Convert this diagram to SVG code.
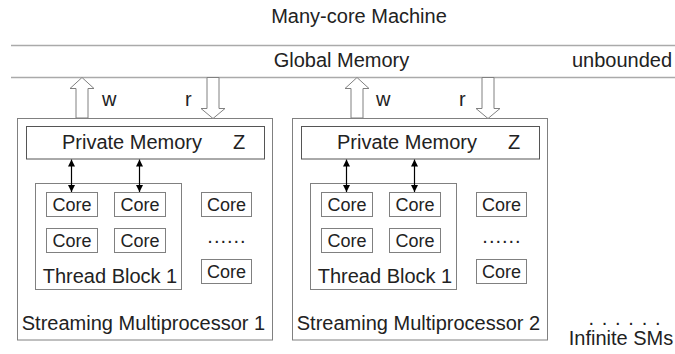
<svg xmlns="http://www.w3.org/2000/svg" width="675" height="354" viewBox="0 0 675 354">
<defs>
<style>
text{font-family:"Liberation Sans",Arial,sans-serif;fill:#222;font-size:20px}
.core{font-size:18px;text-anchor:middle}
.box{fill:#fff;stroke:#808080;stroke-width:1}
.pm{fill:#fff;stroke:#555;stroke-width:1}
.gm{stroke:#aaa;stroke-width:1.5}
.fat{fill:#fff;stroke:#808080;stroke-width:1}
.dbl{stroke:#000;stroke-width:1.2;marker-start:url(#ah);marker-end:url(#ah)}
</style>
<marker id="ah" viewBox="0 0 10 10" refX="10" refY="5" markerWidth="7" markerHeight="7" markerUnits="userSpaceOnUse" orient="auto-start-reverse">
<path d="M0,0 L10,5 L0,10 z" fill="#000"/>
</marker>
<g id="smtpl">
<rect class="box" x="17.5" y="118.5" width="255" height="221.5"/>
<rect class="pm" x="26.5" y="126.5" width="238" height="32.5"/>
<text x="62" y="149">Private Memory</text>
<text x="233" y="149">Z</text>
<rect class="box" x="35.5" y="183.5" width="146" height="106"/>
<rect class="box" x="46.5" y="192.5" width="51" height="24"/>
<rect class="box" x="114.5" y="192.5" width="51" height="24"/>
<rect class="box" x="46.5" y="228.5" width="51" height="24"/>
<rect class="box" x="114.5" y="228.5" width="51" height="24"/>
<text class="core" x="72" y="210.5">Core</text>
<text class="core" x="140" y="210.5">Core</text>
<text class="core" x="72" y="246.5">Core</text>
<text class="core" x="140" y="246.5">Core</text>
<text x="110" y="283" text-anchor="middle">Thread Block 1</text>
<rect class="box" x="201.5" y="192.5" width="50" height="24"/>
<rect class="box" x="201.5" y="259.5" width="50" height="24"/>
<text class="core" x="226.5" y="210.5">Core</text>
<text class="core" x="226.5" y="277.5">Core</text>
<text x="227" y="243" text-anchor="middle" font-size="18" letter-spacing="1">......</text>
</g>
</defs>

<g id="title"><text x="359" y="23" text-anchor="middle">Many-core Machine</text></g>

<g id="global-memory">
<line class="gm" x1="11" y1="45.5" x2="675" y2="45.5"/>
<line class="gm" x1="11" y1="77.5" x2="675" y2="77.5"/>
<text x="341.5" y="67" text-anchor="middle">Global Memory</text>
<text x="672" y="67" text-anchor="end">unbounded</text>
</g>

<g id="sm1">
<use href="#smtpl"/>
<text x="143.5" y="330" text-anchor="middle">Streaming Multiprocessor 1</text>
</g>

<g id="sm2">
<use href="#smtpl" transform="translate(275,0)"/>
<text x="418.5" y="330" text-anchor="middle">Streaming Multiprocessor 2</text>
</g>

<g id="infinite">
<text x="625" y="325" text-anchor="middle" font-size="12" letter-spacing="1.1">. . . . . .</text>
<text x="621" y="345" text-anchor="middle">Infinite SMs</text>
</g>

<g id="connectors">
<polygon class="fat" points="76,118 76,88.5 70,88.5 82,77.5 94,88.5 88,88.5 88,118"/>
<text x="102" y="106">w</text>
<polygon class="fat" points="207,77.5 219,77.5 219,108.5 225,108.5 213,118.5 201,108.5 207,108.5"/>
<text x="185" y="106">r</text>
<polygon class="fat" points="351,118 351,88.5 345,88.5 357,77.5 369,88.5 363,88.5 363,118"/>
<text x="376" y="106">w</text>
<polygon class="fat" points="482,77.5 494,77.5 494,108.5 500,108.5 488,118.5 476,108.5 482,108.5"/>
<text x="459" y="106">r</text>
<line class="dbl" x1="71.5" y1="159.5" x2="71.5" y2="192"/>
<line class="dbl" x1="139.5" y1="159.5" x2="139.5" y2="192"/>
<line class="dbl" x1="346.5" y1="159.5" x2="346.5" y2="192"/>
<line class="dbl" x1="414.5" y1="159.5" x2="414.5" y2="192"/>
</g>
</svg>
